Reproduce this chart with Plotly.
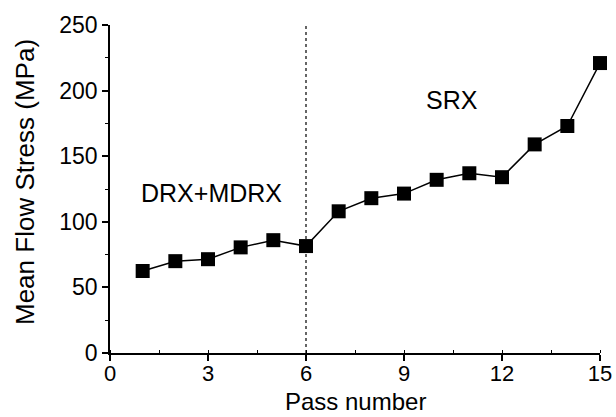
import plotly.graph_objects as go

# Mean flow stress for each rolling pass
passes = list(range(1, 16))
stress = [62.5, 70, 71.5, 80.5, 86, 81.5, 108, 118, 121.5, 132, 137, 134, 159, 173, 221]

x_ticks = [0, 3, 6, 9, 12, 15]
y_ticks = [0, 50, 100, 150, 200, 250]
boundary_pass = 6

font = dict(family="Liberation Sans, Arial, sans-serif", color="black")

fig = go.Figure()
fig.add_trace(go.Scatter(
    x=passes, y=stress, mode="lines+markers",
    line=dict(color="black", width=1.5),
    marker=dict(symbol="square", size=14, color="black"),
    cliponaxis=False, showlegend=False,
))

# Dotted separator between regimes
fig.add_shape(type="line", x0=boundary_pass, x1=boundary_pass, y0=0, y1=250,
              xref="x", yref="y", line=dict(color="black", width=1.2, dash="dot"))

fig.add_annotation(x=3.1, y=122, text="DRX+MDRX", showarrow=False,
                   font=dict(size=25, **font), xref="x", yref="y")
fig.add_annotation(x=10.47, y=193, text="SRX", showarrow=False,
                   font=dict(size=25, **font), xref="x", yref="y")

# Axis titles placed as annotations for precise positioning
fig.add_annotation(x=0.5, y=0, xref="paper", yref="paper", text="Pass number",
                   showarrow=False, xanchor="center", yanchor="bottom", yshift=-63,
                   borderpad=0, font=dict(size=24, **font))
fig.add_annotation(x=0, y=0.5, xref="paper", yref="paper", text="Mean Flow Stress (MPa)",
                   showarrow=False, textangle=-90, xanchor="center", yanchor="middle",
                   xshift=-85, yshift=7, font=dict(size=26, **font))

axis_common = dict(
    showline=True, linecolor="black", linewidth=1.5, showgrid=False, zeroline=False,
    ticks="outside", ticklen=6, tickwidth=1.5, tickcolor="black",
    mirror=False, automargin=False,
)
fig.update_xaxes(range=[0, 15], tickvals=x_ticks, ticklabelstandoff=-6,
                 tickfont=dict(size=22, **font),
                 minor=dict(ticks="inside", ticklen=3, tickwidth=1.2, tickcolor="black", dtick=1.5, tick0=0),
                 **axis_common)
fig.update_yaxes(range=[0, 250], tickvals=y_ticks,
                 tickfont=dict(size=23, **font),
                 minor=dict(ticks="outside", ticklen=3, tickwidth=1.2, tickcolor="black", dtick=25, tick0=0),
                 **axis_common)

fig.update_layout(
    width=616, height=417,
    margin=dict(l=110, r=16, t=25, b=64),
    paper_bgcolor="white", plot_bgcolor="white",
)

fig.write_html("out.html")
